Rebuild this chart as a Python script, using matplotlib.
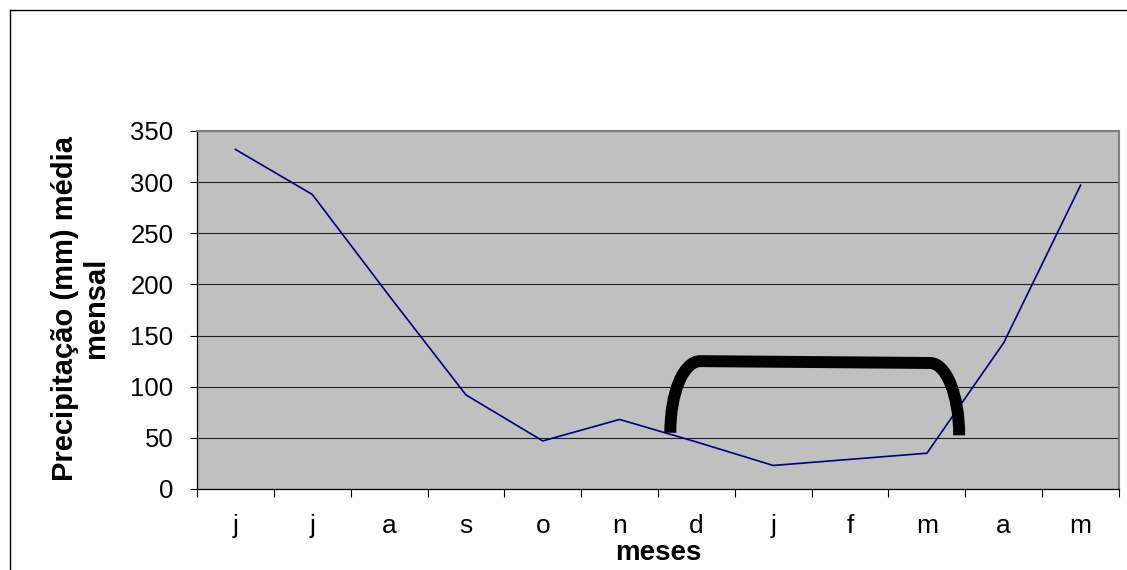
import matplotlib
matplotlib.use("Agg")
import matplotlib.pyplot as plt
from matplotlib.path import Path
from matplotlib.patches import PathPatch
from matplotlib.lines import Line2D
from matplotlib.ticker import FixedLocator, NullFormatter

plt.rcParams["font.family"] = ["Liberation Sans", "DejaVu Sans"]

MONTHS = ["j", "j", "a", "s", "o", "n", "d", "j", "f", "m", "a", "m"]
PRECIP = [332, 288, 189, 92, 47, 68, 46, 23, 29, 35, 143, 297]

# dry-season bracket drawn over the chart (category index, mm)
BRACKET_START = (5.66, 55)
BRACKET_TOP_LEFT = (6.05, 125)
BRACKET_TOP_RIGHT = (9.04, 123.2)
BRACKET_END = (9.42, 52.5)

W, H = 1127, 570
fig = plt.figure(figsize=(W / 100, H / 100), dpi=100)
fig.patch.set_facecolor("white")

# axes placed from pixel edges of the plot area
left, right, top, bottom = 197, 1119, 131, 489
ax = fig.add_axes([left / W, (H - bottom) / H, (right - left) / W, (bottom - top) / H])
ax.set_facecolor("#c0c0c0")

x = list(range(len(MONTHS)))
ax.plot(x, PRECIP, color="#000080", linewidth=1.2, zorder=3)

ax.set_xlim(-0.5, len(MONTHS) - 0.5)
ax.set_ylim(0, 350)
ax.set_yticks(range(0, 351, 50))
ax.yaxis.grid(True, color="#202020", linewidth=0.8)
ax.set_axisbelow(True)

# category boundaries as major ticks, labels on minor ticks at centres
ax.xaxis.set_major_locator(FixedLocator([i - 0.5 for i in range(len(MONTHS) + 1)]))
ax.xaxis.set_major_formatter(NullFormatter())
ax.xaxis.set_minor_locator(FixedLocator(x))
ax.set_xticklabels(MONTHS, minor=True)
ax.tick_params(axis="x", which="major", length=6, width=0.8, direction="out", color="black")
ax.tick_params(axis="x", which="minor", length=0, pad=18, labelsize=19)
ax.tick_params(axis="y", length=5, width=0.8, direction="out", pad=12, labelsize=18.5)

for side in ("top", "right"):
    ax.spines[side].set_color("#808080")
    ax.spines[side].set_linewidth(1.5)
for side in ("left", "bottom"):
    ax.spines[side].set_color("black")
    ax.spines[side].set_linewidth(0.9)

ax.set_ylabel("Precipitação (mm) média\nmensal", fontsize=21, fontweight="bold",
              multialignment="center", linespacing=1.15)
ax.yaxis.set_label_coords(-0.094, 0.505)
ax.set_xlabel("meses", fontsize=20, fontweight="bold")
ax.xaxis.label.set_va("baseline")
ax.xaxis.set_label_coords(0.5, (bottom - 560) / (bottom - top))

# bracket annotation: two quarter-ellipse legs joined by a straight top
verts = [
    BRACKET_START,
    (BRACKET_START[0], 94),
    (5.83, BRACKET_TOP_LEFT[1]),
    BRACKET_TOP_LEFT,
    BRACKET_TOP_RIGHT,
    (9.25, BRACKET_TOP_RIGHT[1]),
    (BRACKET_END[0], 92),
    BRACKET_END,
]
codes = [Path.MOVETO, Path.CURVE4, Path.CURVE4, Path.CURVE4,
         Path.LINETO, Path.CURVE4, Path.CURVE4, Path.CURVE4]
bracket = PathPatch(Path(verts, codes), facecolor="none", edgecolor="black",
                    linewidth=8.6, capstyle="butt", joinstyle="round", zorder=4)
ax.add_patch(bracket)

# outer chart border (left and top edges visible)
bx, by = 9.5 / W, 1 - 9.5 / H
fig.add_artist(Line2D([bx, bx], [0, by], transform=fig.transFigure, color="black", linewidth=1))
fig.add_artist(Line2D([bx, 1], [by, by], transform=fig.transFigure, color="black", linewidth=1))

fig.savefig("out.png", dpi=100)
